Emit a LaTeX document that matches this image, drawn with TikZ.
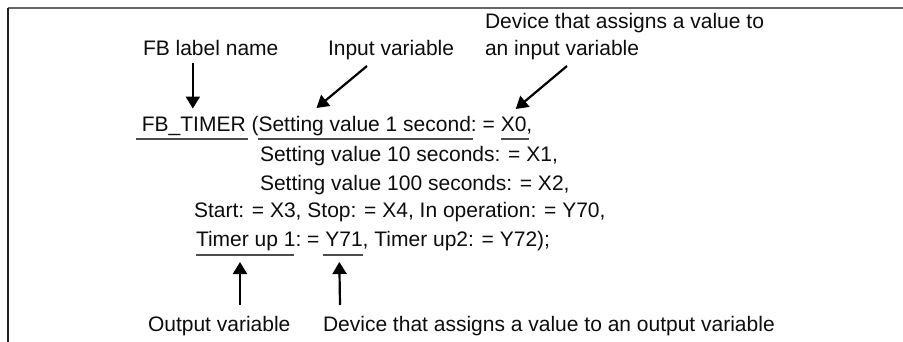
\documentclass[tikz,border=0pt]{standalone}
\usepackage{fontspec}
\setmainfont{Liberation Sans}
\usetikzlibrary{arrows.meta,calc}
\begin{document}
\begin{tikzpicture}[x=1pt,y=-1pt,
  txt/.style={font=\fontsize{21}{27}\selectfont, inner sep=0pt, outer sep=0pt, anchor=base west, text=black!95},
  uline/.style={draw=black!70, line width=2pt},
  arr/.style={draw=black, line width=2.2pt, -{Triangle[length=12pt,width=14pt]}},
  frametop/.style={draw=black!60, line width=1.4pt},
  frameleft/.style={draw=black!88, line width=1.4pt},
]
\useasboundingbox (0,0) rectangle (903,342);
\fill[white] (0,0) rectangle (903,342);
\draw[frametop] (8,8) -- (903,8);
\draw[frameleft] (8,8) -- (8,342);

% top labels
\node[txt] (fblab) at (143,56) {FB label name};
\node[txt] (inlab) at (328,56) {Input variable};
\node[txt] (devin1) at (485,29) {Device that assigns a value to};
\node[txt] (devin2) at (485,56) {an input variable};

% code line 1
\node[txt] (l1a) at (136,132) {\ FB\_TIMER};
\node[txt] (l1b) at (l1a.base east) {\ (};
\node[txt] (l1c) at (l1b.base east) {Setting value 1 second};
\node[txt] (l1d) at (l1c.base east) {:\ =\ \mbox{}};
\node[txt] (l1e) at (l1d.base east) {X0};
\node[txt] (l1f) at (l1e.base east) {,};

% code lines 2-4
\node[txt] (l2) at (260,162) {Setting value 10 seconds: = X1,};
\node[txt] (l3) at (260,190) {Setting value 100 seconds: = X2,};
\node[txt] (l4) at (194,218) {Start: = X3, Stop: = X4, In operation: = Y70,};

% code line 5
\node[txt] (l5a) at (196,247) {Timer up 1};
\node[txt] (l5b) at (l5a.base east) {:\ =\ \mbox{}};
\node[txt] (l5c) at (l5b.base east) {Y71};
\node[txt] (l5d) at (l5c.base east) {, Timer up2: = Y72);};

% bottom labels
\node[txt] (outlab) at (148,331) {Output variable};
\node[txt] (devout) at (323,331) {Device that assigns a value to an output variable};

% underlines
\draw[uline] ($(l1a.base west)+(0,7)$) -- ($(l1a.base east)+(2,7)$);
\draw[uline] ($(l1c.base west)+(-1,7)$) -- ($(l1c.base east)+(2,7)$);
\draw[uline] ($(l1e.base west)+(0,7)$) -- ($(l1e.base east)+(3,7)$);
\draw[uline] ($(l5a.base west)+(0,7.5)$) -- ($(l5a.base east)+(-2,7.5)$);
\draw[uline] ($(l5c.base west)+(-2,7.5)$) -- ($(l5c.base east)+(0,7.5)$);

% arrows
\draw[arr] ($(l1a.north |- fblab.south)+(2,7)$) -- ($(l1a.north)+(2,-9)$);
\draw[arr] ($(inlab.base west)+(39,10)$) -- ($(l1c.base west)+(58,-24)$);
\draw[arr] ($(devin2.base west)+(82,10)$) -- ($(l1e.base west)+(15,-23)$);
\draw[arr] ($(outlab.base west)+(92,-26)$) -- ($(l5a.base west)+(44,15)$);
\draw[arr] ($(devout.base west)+(17,-26)$) -- ($(l5c.base west)+(14,15)$);
\end{tikzpicture}
\end{document}
